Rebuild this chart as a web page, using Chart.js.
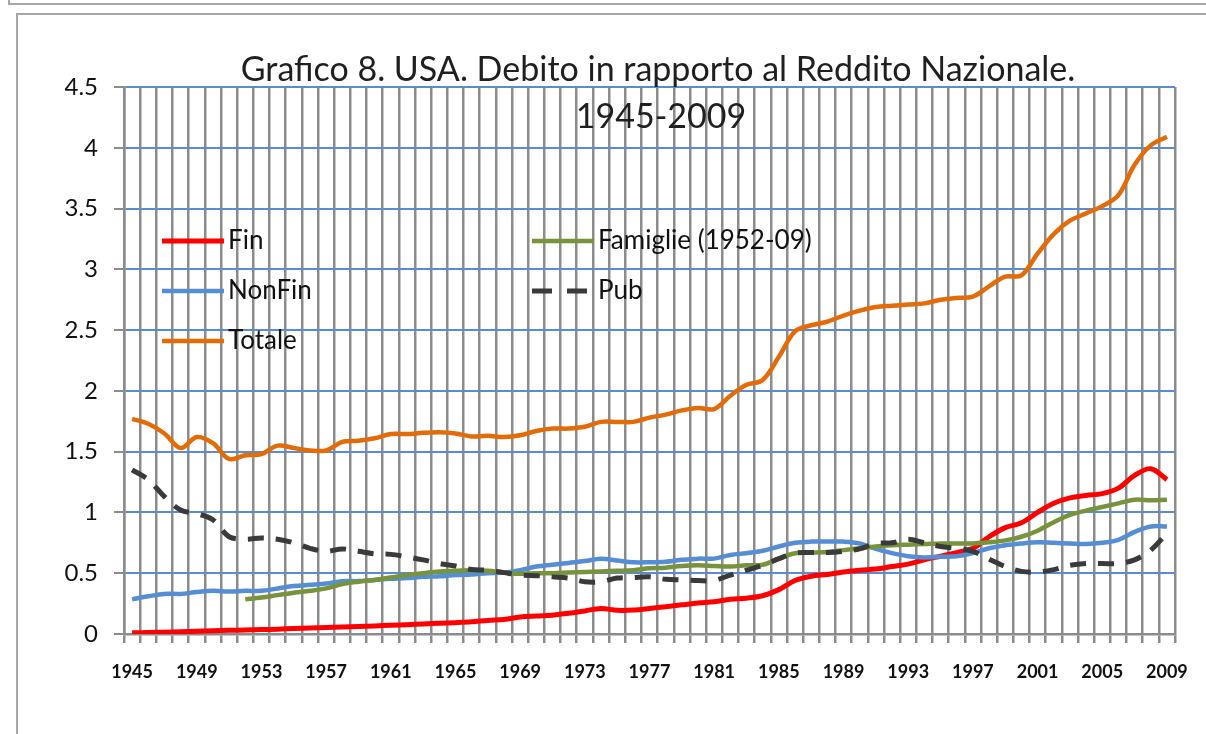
<!DOCTYPE html>
<html lang="it">
<head>
    <meta charset="UTF-8">
    <title>Grafico 8. USA</title>
    <style>
        html, body {
            margin: 0;
            padding: 0;
            background: #fff;
            overflow: hidden;
        }
        #wrap {
            position: relative;
            width: 1206px;
            height: 734px;
        }
        .cornice1 {
            position: absolute;
            left: 8px;
            top: -20px;
            width: 1300px;
            height: 21px;
            border: 2px solid #a6a6a6;
        }
        .cornice2 {
            position: absolute;
            left: 16px;
            top: 13px;
            width: 1300px;
            height: 800px;
            border: 2px solid #a6a6a6;
        }
        canvas {
            position: absolute;
            left: 0;
            top: 0;
        }
    </style>
</head>
<body>
    <div id="wrap">
        <div class="cornice1"></div>
        <div class="cornice2"></div>
        <canvas id="grafico" width="1206" height="734"></canvas>
    </div>

    <script src="https://cdn.jsdelivr.net/npm/chart.js@4.4.0/dist/chart.umd.min.js"></script>
    <script>
        // dati (rapporto debito / reddito nazionale)
        const anni = ['1945','1946','1947','1948','1949','1950','1951','1952','1953','1954',
            '1955','1956','1957','1958','1959','1960','1961','1962','1963','1964',
            '1965','1966','1967','1968','1969','1970','1971','1972','1973','1974',
            '1975','1976','1977','1978','1979','1980','1981','1982','1983','1984',
            '1985','1986','1987','1988','1989','1990','1991','1992','1993','1994',
            '1995','1996','1997','1998','1999','2000','2001','2002','2003','2004',
            '2005','2006','2007','2008','2009'];

        const etichetteX = ['1945','1949','1953','1957','1961','1965','1969','1973','1977',
            '1981','1985','1989','1993','1997','2001','2005','2009'];

        const fin = [0.01, 0.012, 0.015, 0.018, 0.022, 0.027, 0.03, 0.033, 0.036, 0.04,
            0.045, 0.05, 0.054, 0.058, 0.062, 0.066, 0.072, 0.077, 0.083, 0.088,
            0.093, 0.10, 0.112, 0.12, 0.14, 0.148, 0.155, 0.17, 0.19, 0.21,
            0.195, 0.197, 0.21, 0.225, 0.24, 0.255, 0.265, 0.285, 0.295, 0.315,
            0.365, 0.44, 0.475, 0.49, 0.51, 0.525, 0.535, 0.555, 0.575, 0.61,
            0.64, 0.67, 0.705, 0.80, 0.875, 0.915, 1.00, 1.075, 1.12, 1.14,
            1.155, 1.20, 1.305, 1.36, 1.27];

        const nonFin = [0.285, 0.31, 0.33, 0.33, 0.345, 0.355, 0.35, 0.355, 0.355, 0.375,
            0.395, 0.405, 0.415, 0.435, 0.435, 0.445, 0.455, 0.46, 0.47, 0.475,
            0.485, 0.49, 0.50, 0.505, 0.525, 0.555, 0.57, 0.585, 0.60, 0.62,
            0.605, 0.59, 0.59, 0.595, 0.61, 0.62, 0.62, 0.65, 0.665, 0.685,
            0.72, 0.75, 0.76, 0.76, 0.76, 0.745, 0.70, 0.665, 0.64, 0.63,
            0.635, 0.64, 0.665, 0.705, 0.73, 0.745, 0.755, 0.75, 0.745, 0.74,
            0.75, 0.775, 0.84, 0.885, 0.885];

        const totale = [1.77, 1.73, 1.65, 1.53, 1.62, 1.57, 1.44, 1.47, 1.48, 1.55,
            1.53, 1.51, 1.51, 1.58, 1.59, 1.61, 1.645, 1.645, 1.655, 1.66,
            1.65, 1.625, 1.63, 1.62, 1.635, 1.67, 1.69, 1.69, 1.705, 1.745,
            1.745, 1.745, 1.78, 1.805, 1.84, 1.86, 1.85, 1.96, 2.05, 2.09,
            2.28, 2.49, 2.54, 2.57, 2.62, 2.66, 2.69, 2.70, 2.71, 2.72,
            2.75, 2.765, 2.775, 2.86, 2.94, 2.95, 3.13, 3.29, 3.40, 3.46,
            3.52, 3.61, 3.86, 4.02, 4.09];

        // Famiglie: serie disponibile dal 1952
        const famiglie = [null, null, null, null, null, null, null, 0.285, 0.30, 0.32,
            0.34, 0.355, 0.375, 0.41, 0.43, 0.445, 0.465, 0.485, 0.50, 0.515,
            0.52, 0.525, 0.52, 0.505, 0.495, 0.50, 0.50, 0.505, 0.51, 0.515,
            0.52, 0.525, 0.54, 0.545, 0.56, 0.565, 0.56, 0.555, 0.565, 0.57,
            0.62, 0.665, 0.67, 0.675, 0.69, 0.705, 0.72, 0.73, 0.735, 0.74,
            0.745, 0.745, 0.745, 0.755, 0.77, 0.80, 0.85, 0.92, 0.98, 1.015,
            1.045, 1.075, 1.105, 1.10, 1.105];

        const pub = [1.35, 1.27, 1.13, 1.02, 0.99, 0.94, 0.80, 0.78, 0.79, 0.78,
            0.75, 0.705, 0.68, 0.70, 0.68, 0.66, 0.655, 0.635, 0.61, 0.58,
            0.56, 0.53, 0.525, 0.505, 0.485, 0.48, 0.47, 0.46, 0.43, 0.43,
            0.46, 0.465, 0.47, 0.45, 0.445, 0.44, 0.44, 0.485, 0.525, 0.565,
            0.62, 0.665, 0.67, 0.67, 0.68, 0.70, 0.745, 0.75, 0.78, 0.75,
            0.72, 0.705, 0.68, 0.615, 0.555, 0.515, 0.51, 0.53, 0.565, 0.58,
            0.58, 0.58, 0.61, 0.69, 0.83];

        const titolo = ['Grafico 8. USA. Debito in rapporto al Reddito Nazionale.', '1945-2009'];

        const FONT = 'Lato, "Open Sans", sans-serif';
        const GRIGIO = '#8c8c8c';
        const BLU_GRIGLIA = '#5b8bd0';

        // titolo disegnato sopra l'area del grafico, come nell'originale
        const titoloPlugin = {
            id: 'titolo',
            afterDraw(chart) {
                const c = chart.ctx;
                c.save();
                c.fillStyle = '#1f1f1f';
                c.font = '34px ' + FONT;
                c.textAlign = 'center';
                c.textBaseline = 'middle';
                c.fillText(titolo[0], 658, 70);
                c.fillText(titolo[1], 661, 117);
                c.restore();
            }
        };

        // legenda a due colonne dentro l'area del grafico
        const legendaPlugin = {
            id: 'legendaInterna',
            afterDraw(chart) {
                const c = chart.ctx;
                const colonne = [162, 532];
                const righe = [241, 291, 341];
                c.save();
                c.font = '26px ' + FONT;
                c.textBaseline = 'middle';
                c.textAlign = 'left';
                chart.data.datasets.forEach((ds, i) => {
                    const x = colonne[Math.floor(i / 3)];
                    const y = righe[i % 3];
                    c.strokeStyle = ds.borderColor;
                    c.lineWidth = ds.borderWidth;
                    c.setLineDash(ds.borderDash ? [20, 15] : []);
                    c.beginPath();
                    c.moveTo(x, y);
                    c.lineTo(x + 62, y);
                    c.stroke();
                    c.setLineDash([]);
                    c.fillStyle = '#111';
                    c.fillText(ds.label, x + 66, y);
                });
                c.restore();
            }
        };

        const ctx = document.getElementById('grafico').getContext('2d');

        const grafico = new Chart(ctx, {
            type: 'line',
            data: {
                labels: anni,
                datasets: [{
                    label: 'Fin',
                    data: fin,
                    borderColor: '#ff0000',
                    borderWidth: 5,
                    order: 5
                }, {
                    label: 'NonFin',
                    data: nonFin,
                    borderColor: '#558ed5',
                    borderWidth: 4.5,
                    order: 4
                }, {
                    label: 'Totale',
                    data: totale,
                    borderColor: '#e36c09',
                    borderWidth: 4.5,
                    order: 3
                }, {
                    label: 'Famiglie (1952-09)',
                    data: famiglie,
                    borderColor: '#77933c',
                    borderWidth: 4.5,
                    order: 2
                }, {
                    label: 'Pub',
                    data: pub,
                    borderColor: '#3a3a3a',
                    borderWidth: 5,
                    borderDash: [16, 12],
                    order: 1
                }]
            },
            options: {
                responsive: false,
                animation: false,
                layout: {
                    padding: { left: 0, top: 87, right: 26, bottom: 0 }
                },
                elements: {
                    point: { radius: 0 },
                    line: { tension: 0.35, fill: false }
                },
                plugins: {
                    legend: { display: false },
                    title: { display: false },
                    tooltip: { enabled: false }
                },
                scales: {
                    x: {
                        type: 'category',
                        offset: true,
                        z: -1,
                        afterFit(scale) { scale.height = 100; },
                        grid: {
                            offset: true,
                            color: GRIGIO,
                            lineWidth: 2.5,
                            tickLength: 9,
                            tickColor: GRIGIO
                        },
                        border: { color: GRIGIO, width: 2.5 },
                        ticks: {
                            autoSkip: false,
                            maxRotation: 0,
                            padding: 18,
                            color: '#111',
                            font: { family: FONT, size: 18, weight: 'bold' },
                            callback(val) {
                                const a = this.getLabelForValue(val);
                                return etichetteX.includes(a) ? a : '';
                            }
                        }
                    },
                    y: {
                        min: 0,
                        max: 4.5,
                        afterFit(scale) { scale.width = 124; },
                        grid: {
                            color: (c) => c.tick && c.tick.value === 0 ? GRIGIO : BLU_GRIGLIA,
                            lineWidth: 2,
                            tickLength: 10,
                            tickColor: GRIGIO
                        },
                        border: { color: GRIGIO, width: 2.5 },
                        ticks: {
                            stepSize: 0.5,
                            padding: 16,
                            color: '#111',
                            font: { family: FONT, size: 24 },
                            callback: (v) => String(v)
                        }
                    }
                }
            },
            plugins: [titoloPlugin, legendaPlugin]
        });
    </script>
</body>
</html>
